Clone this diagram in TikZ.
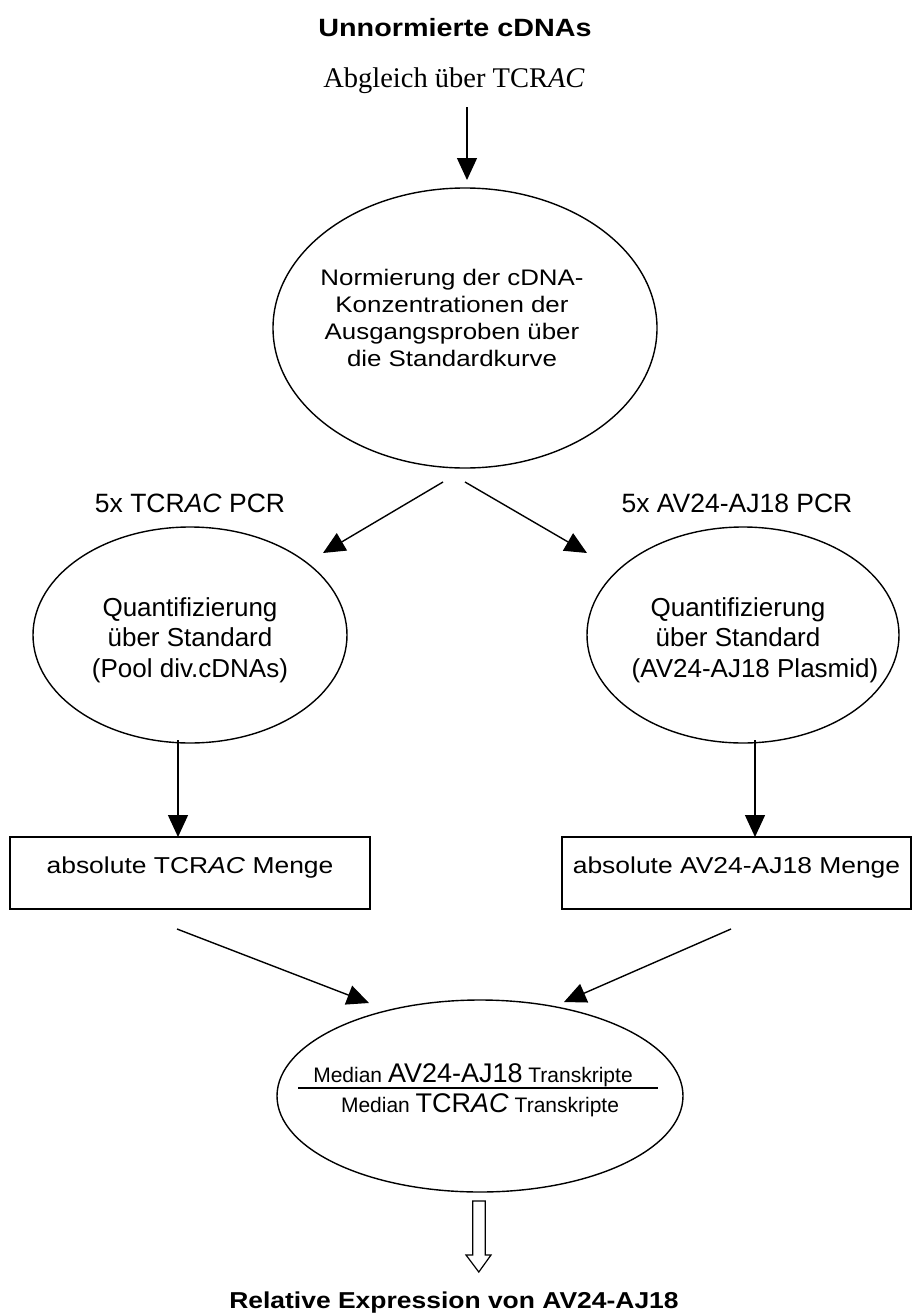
\documentclass[tikz,border=0pt]{standalone}
\usepackage{fontspec}
\setmainfont{Liberation Sans}
\newfontfamily\widesf{Liberation Sans}[FakeStretch=1.15]
\newfontfamily\timesrm{Liberation Serif}
\usetikzlibrary{arrows.meta}
\usetikzlibrary{shapes.geometric}

\begin{document}
\begin{tikzpicture}[
        x=1pt, y=-1pt,
        oval node/.style={ellipse,draw,line width=1.4pt,inner sep=0pt},
        box node/.style={rectangle,draw,line width=1.4pt,inner sep=0pt,minimum height=72pt,text height=18pt,text depth=18pt,font=\widesf\fontsize{23}{28}\selectfont},
        txt node/.style={align=center,inner sep=0pt},
        arrow line/.style={line width=1.4pt,-{Triangle[length=22pt,width=20pt]}},
        ]

    \useasboundingbox (0,0) rectangle (912,1314);

    \node[txt node, anchor=base, font=\widesf\bfseries\fontsize{25}{30}\selectfont] (title) at (455,37) {Unnormierte cDNAs};
    \node[txt node, anchor=base, font=\timesrm\fontsize{28.5}{34}\selectfont] (abgleich) at (454,87) {Abgleich über TCR\textit{AC}};

    \node[oval node, minimum width=384pt, minimum height=280pt] (norm) at (465,328) {};
    \node[txt node, font=\widesf\fontsize{22.5}{27.3}\selectfont] (normtext) at (452,318) {Normierung der cDNA-\\Konzentrationen der\\Ausgangsproben über\\die Standardkurve};

    \node[txt node, anchor=base, font=\fontsize{26.5}{31}\selectfont] (pcrL) at (190,512) {5x TCR\textit{AC} PCR};
    \node[txt node, anchor=base, font=\fontsize{26.5}{31}\selectfont] (pcrR) at (737,512) {5x AV24-AJ18 PCR};

    \node[oval node, minimum width=314pt, minimum height=216pt] (quantL) at (190,635) {};
    \node[txt node, font=\fontsize{26}{30.5}\selectfont] (quantLtext) at (190,640) {Quantifizierung\\über Standard\\(Pool div.cDNAs)};
    \node[oval node, minimum width=312pt, minimum height=216pt] (quantR) at (743,635) {};
    \node[txt node, font=\fontsize{26}{30.5}\selectfont] (quantRtext) at (738,640) {Quantifizierung\\über Standard\\\hspace*{34pt}(AV24-AJ18 Plasmid)};

    \node[box node, minimum width=360pt] (mengeL) at (190,873) {absolute TCR\textit{AC} Menge};
    \node[box node, minimum width=349pt] (mengeR) at (736.5,873) {absolute AV24-AJ18 Menge};

    \node[oval node, minimum width=406pt, minimum height=192pt] (ratio) at (480,1096) {};
    \node[txt node, anchor=base, font=\fontsize{27}{31}\selectfont] (num) at (473,1082) {{\fontsize{21}{25}\selectfont Median }AV24-AJ18{\fontsize{21}{25}\selectfont{} Transkripte}};
    \node[txt node, anchor=base, font=\fontsize{27}{31}\selectfont] (den) at (480,1112) {{\fontsize{21}{25}\selectfont Median }TCR\textit{AC}{\fontsize{21}{25}\selectfont{} Transkripte}};
    \draw[line width=1.2pt] (298,1088) -- (658,1088);

    \node[txt node, anchor=base, font=\widesf\bfseries\fontsize{23}{28}\selectfont] (result) at (454,1308) {Relative Expression von AV24-AJ18};

    % arrow ends
    \coordinate (a0) at (467,107);
    \coordinate (a1) at (467,180);
    \coordinate (b0) at (443,482);
    \coordinate (b1) at (323,553);
    \coordinate (c0) at (465,482);
    \coordinate (c1) at (587,553);
    \coordinate (d0) at (178,740);
    \coordinate (d1) at (178,837);
    \coordinate (e0) at (755,740);
    \coordinate (e1) at (755,837);
    \coordinate (f0) at (177,929);
    \coordinate (f1) at (369,1003);
    \coordinate (g0) at (731,929);
    \coordinate (g1) at (564,1002);

    \draw[arrow line] (a0) -- (a1);
    \draw[arrow line] (b0) -- (b1);
    \draw[arrow line] (c0) -- (c1);
    \draw[arrow line] (d0) -- (d1);
    \draw[arrow line] (e0) -- (e1);
    \draw[arrow line] (f0) -- (f1);
    \draw[arrow line] (g0) -- (g1);

    % hollow arrow
    \draw[line width=1.2pt, line join=miter] (472.7,1201) -- (485.3,1201) -- (485.3,1255) -- (491,1255) -- (478.8,1272) -- (466,1255) -- (472.7,1255) -- cycle;
    \end{tikzpicture}
\end{document}
